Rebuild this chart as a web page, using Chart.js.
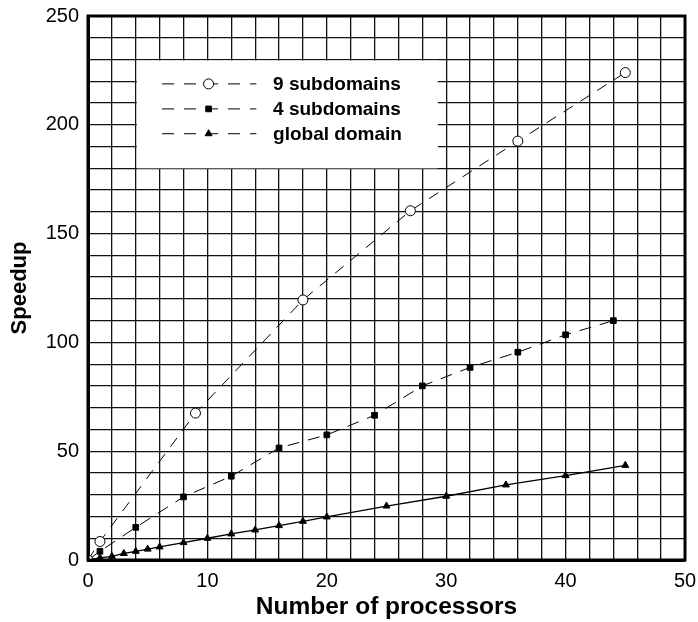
<!DOCTYPE html>
<html>
<head>
<meta charset="utf-8">
<script src="https://cdn.jsdelivr.net/npm/chart.js@4/dist/chart.umd.min.js"></script>
<style>
  html, body { margin: 0; padding: 0; background: #fff; }
  #wrap { width: 698px; height: 622px; }
</style>
</head>
<body>
<div id="wrap"><canvas id="chart"></canvas></div>
<script>
const SERIES_LABELS = ["9 subdomains", "4 subdomains", "global domain"];

const NINE_X = [0, 1, 9, 18, 27, 36, 45];
const NINE_Y = [0, 8.5, 67.5, 119.5, 160.5, 192.5, 224];

const FOUR_X = [0, 1, 4, 8, 12, 16, 20, 24, 28, 32, 36, 40, 44];
const FOUR_Y = [0, 4, 15, 29, 38.5, 51.5, 57.5, 66.5, 80, 88.5, 95.5, 103.5, 110];

const GLOBAL_X = [0, 1, 2, 3, 4, 5, 6, 8, 10, 12, 14, 16, 18, 20, 25, 30, 35, 40, 45];
const GLOBAL_Y = [0, 1, 1.7, 3, 4, 5, 6, 8, 10, 12, 13.8, 15.8, 17.8, 19.8, 24.8, 29.3, 34.5, 38.8, 43.5];

const X_TICK_LABELS = [0, 10, 20, 30, 40, 50];
const Y_TICK_LABELS = [0, 50, 100, 150, 200, 250];

const FONT = "'Liberation Sans', Arial, Helvetica, sans-serif";

function toPoints(xs, ys) {
  return xs.map((x, i) => ({ x, y: ys[i] }));
}

// white legend panel that blanks the grid, drawn before the data
const legendPanel = {
  id: "legendPanel",
  beforeDatasetsDraw(chart) {
    const { ctx, scales: { x, y } } = chart;
    const left = x.getPixelForValue(4), right = x.getPixelForValue(29.3);
    const top = y.getPixelForValue(230), bottom = y.getPixelForValue(180);
    ctx.save();
    ctx.fillStyle = "#fff";
    ctx.fillRect(left + 1, top + 1, right - left - 1, bottom - top - 1);
    ctx.restore();
  },
  afterDatasetsDraw(chart) {
    const { ctx, scales: { x, y } } = chart;
    const x0 = x.getPixelForValue(6.2), x1 = x.getPixelForValue(14.1);
    const xm = x.getPixelForValue(10.1), xt = x.getPixelForValue(15.5);
    const rows = [218.8, 207.3, 195.9];
    ctx.save();
    chart.data.datasets.forEach((ds, i) => {
      const py = y.getPixelForValue(rows[i]);
      ctx.strokeStyle = "#000";
      ctx.lineWidth = 1;
      ctx.setLineDash([12, 10]);
      ctx.beginPath();
      ctx.moveTo(x0, py);
      ctx.lineTo(x1, py);
      ctx.stroke();
      ctx.setLineDash([]);
      ctx.fillStyle = ds.pointBackgroundColor;
      ctx.strokeStyle = "#000";
      Chart.helpers.drawPoint(ctx, {
        pointStyle: ds.pointStyle,
        radius: ds.pointRadius,
        borderWidth: 1,
      }, xm, py);
      ctx.fillStyle = "#000";
      ctx.font = "bold 19px " + FONT;
      ctx.textBaseline = "middle";
      ctx.fillText(ds.label, xt, py + 1);
    });
    ctx.restore();
  },
  afterDraw(chart) {
    const { ctx, chartArea: a } = chart;
    ctx.save();
    ctx.strokeStyle = "#000";
    ctx.lineWidth = 3;
    ctx.strokeRect(a.left, a.top, a.right - a.left, a.bottom - a.top);
    ctx.restore();
  },
};

new Chart(document.getElementById("chart"), {
  type: "scatter",
  data: {
    datasets: [
      {
        label: SERIES_LABELS[0],
        data: toPoints(NINE_X, NINE_Y),
        showLine: true,
        borderColor: "#000",
        borderWidth: 1,
        borderDash: [11, 9],
        pointStyle: "circle",
        pointRadius: 5,
        pointBackgroundColor: "#fff",
        pointBorderColor: "#000",
        pointBorderWidth: 1,
      },
      {
        label: SERIES_LABELS[1],
        data: toPoints(FOUR_X, FOUR_Y),
        showLine: true,
        borderColor: "#000",
        borderWidth: 1,
        borderDash: [12, 9],
        pointStyle: "rect",
        pointRadius: 4,
        pointBackgroundColor: "#000",
        pointBorderColor: "#000",
        pointBorderWidth: 1,
      },
      {
        label: SERIES_LABELS[2],
        data: toPoints(GLOBAL_X, GLOBAL_Y),
        showLine: true,
        borderColor: "#000",
        borderWidth: 1.3,
        pointStyle: "triangle",
        pointRadius: 4,
        pointBackgroundColor: "#000",
        pointBorderColor: "#000",
        pointBorderWidth: 1,
      },
    ],
  },
  options: {
    responsive: true,
    maintainAspectRatio: false,
    animation: false,
    layout: { padding: { top: 16, right: 13, left: 0, bottom: 0 } },
    plugins: {
      legend: { display: false },
      tooltip: { enabled: false },
    },
    scales: {
      x: {
        type: "linear",
        min: 0,
        max: 50,
        afterFit: (s) => { s.height = 62; s.paddingLeft = 0; s.paddingRight = 0; },
        ticks: {
          stepSize: 2,
          autoSkip: false,
          maxRotation: 0,
          padding: 9,
          color: "#000",
          font: { family: FONT, size: 20 },
          callback: (v) => (X_TICK_LABELS.includes(v) ? String(v) : ""),
        },
        grid: { color: "#111", lineWidth: 1.3, drawTicks: false },
        border: { display: true, color: "#000", width: 3 },
        title: {
          display: true,
          text: "Number of processors",
          color: "#000",
          font: { family: FONT, size: 24.5, weight: "bold" },
          padding: { top: 0, bottom: 0 },
        },
      },
      y: {
        type: "linear",
        min: 0,
        max: 250,
        afterFit: (s) => { s.width = 88; s.paddingTop = 0; s.paddingBottom = 0; },
        ticks: {
          stepSize: 10,
          autoSkip: false,
          padding: 9,
          color: "#000",
          font: { family: FONT, size: 20 },
          callback: (v) => (Y_TICK_LABELS.includes(v) ? String(v) : ""),
        },
        grid: { color: "#111", lineWidth: 1.3, drawTicks: false },
        border: { display: true, color: "#000", width: 3 },
        title: {
          display: true,
          text: "Speedup",
          color: "#000",
          font: { family: FONT, size: 22, weight: "bold" },
          padding: { top: 7, bottom: 0 },
        },
      },
    },
  },
  plugins: [legendPanel],
});
</script>
</body>
</html>
